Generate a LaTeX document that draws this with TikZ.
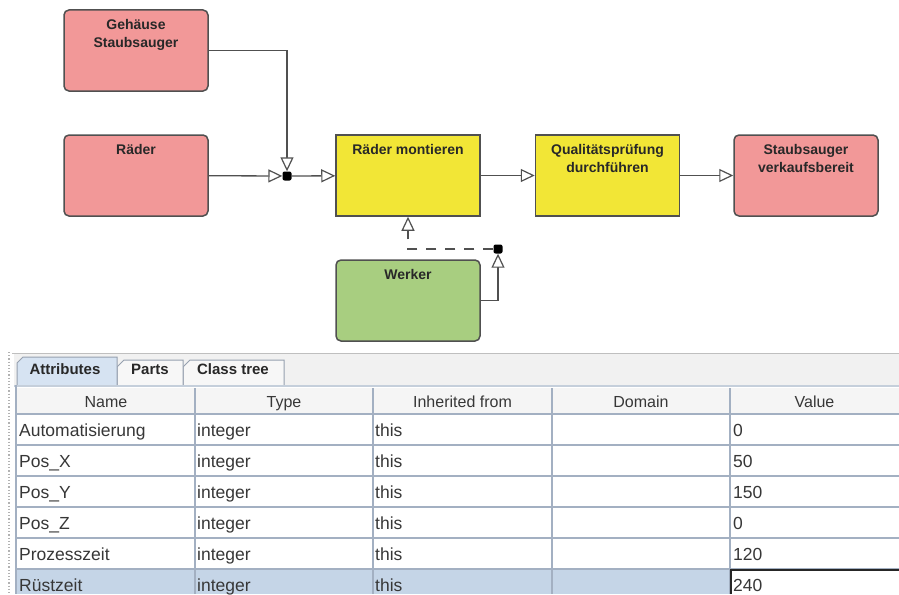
\documentclass[tikz,border=0pt]{standalone}
\usepackage{fontspec}
\setmainfont{Liberation Sans}
\usetikzlibrary{arrows.meta}
\definecolor{boxpink}{RGB}{242,152,152}
\definecolor{boxyellow}{RGB}{242,230,54}
\definecolor{boxgreen}{RGB}{168,206,128}
\definecolor{boxline}{RGB}{80,80,80}
\definecolor{boxtext}{RGB}{40,40,40}
\definecolor{gridline}{RGB}{163,176,194}
\definecolor{panelgray}{RGB}{241,241,241}
\definecolor{headgray}{RGB}{245,245,245}
\definecolor{selrow}{RGB}{197,213,231}
\definecolor{tabblue}{RGB}{214,227,242}
\definecolor{tabline}{RGB}{150,160,175}
\definecolor{celltext}{RGB}{55,55,55}
\newcommand\boxtitle[1]{\parbox[c][62pt][t]{140pt}{\centering #1}}

\begin{document}
\begin{tikzpicture}[x=1pt, y=-1pt,
    box/.style={draw=boxline, line width=1.5pt, minimum width=144pt, minimum height=81pt, inner sep=0pt, text=boxtext, font=\fontsize{14}{18}\selectfont\bfseries},
    part/.style={box, fill=boxpink, rounded corners=5pt},
    task/.style={box, fill=boxyellow},
    worker/.style={box, fill=boxgreen, rounded corners=5pt},
    dot/.style={fill=black, rounded corners=2pt, minimum size=9pt, inner sep=0pt},
    flow/.style={draw=boxline, line width=1.3pt, -{Triangle[fill=white, length=14pt, width=13pt, line width=1.2pt]}},
    cell/.style={anchor=base west, inner sep=0pt, text=celltext, font=\fontsize{17.5}{20}\selectfont},
    head/.style={anchor=base, inner sep=0pt, text=celltext, font=\fontsize{16}{19}\selectfont},
    tab/.style={anchor=base, inner sep=0pt, text=boxtext, font=\fontsize{15}{18}\selectfont\bfseries}]
  \clip (0,0) rectangle (899,594);
  \fill[white] (0,0) rectangle (899,594);

  % process diagram
  \node[part] (geh) at (136,50.5) {\boxtitle{Gehäuse\\Staubsauger}};
  \node[part] (rad) at (136,175.5) {\boxtitle{Räder}};
  \node[task] (mont) at (408,175.5) {\boxtitle{Räder montieren}};
  \node[task] (qual) at (607.5,175.5) {\boxtitle{Qualitätsprüfung\\durchführen}};
  \node[part] (verk) at (806,175.5) {\boxtitle{Staubsauger\\verkaufsbereit}};
  \node[worker] (werk) at (408,300.5) {\boxtitle{Werker}};
  \node[dot] (jn) at (287,176) {};
  \node[dot] (jw) at (498,249) {};

  \draw[flow] (geh) -| (jn);
  \draw[flow] (rad) -- (jn);
  \draw[flow] (jn) -- (mont);
  \draw[flow] (mont) -- (qual);
  \draw[flow] (qual) -- (verk);
  \draw[flow] (werk) -| (jw);
  \draw[flow, dash pattern=on 10pt off 9pt] (jw) -| (mont);

  % attribute panel
  \draw[gray!60, dotted, line width=1.2pt] (9,352) -- (9,594);
  \fill[panelgray] (14,353) rectangle (899,385);
  \draw[gray!50, line width=1pt] (12,353) -- (899,353);
  \filldraw[fill=panelgray!60!white, draw=tabline, line width=1pt] (183,385) -- (183,367) -- (190,360) -- (284,360) -- (284,385);
  \filldraw[fill=panelgray!60!white, draw=tabline, line width=1pt] (117,385) -- (117,367) -- (124,360) -- (183,360) -- (183,385);
  \filldraw[fill=tabblue, draw=tabline, line width=1pt] (17,385) -- (17,363) -- (23,357) -- (117,357) -- (117,385);
  \node[tab] (tatt) at (65,374.5) {Attributes};
  \node[tab] (tpar) at (150,374.5) {Parts};
  \node[tab] (tcls) at (233,374.5) {Class tree};
  \draw[tabblue!80!gray, line width=2.5pt] (14,386) -- (899,386);

  \fill[headgray] (17,388) rectangle (899,413);
  \fill[white] (17,414) rectangle (899,594);
  \fill[selrow] (17,569) rectangle (730,594);
  \foreach \k in {0,...,5}
    \draw[gridline, line width=1.8pt] (17,414+31*\k) -- (899,414+31*\k);
  \foreach \cx in {195,373,552,730}
    \draw[gridline, line width=1.5pt] (\cx,388) -- (\cx,594);
  \draw[gridline, line width=2pt] (15.5,385) -- (15.5,594);
  \draw[black!85, line width=1.5pt] (731,594) -- (731,570) -- (900,570);

  \node[head] (hname) at (106,407) {Name};
  \node[head] (htype) at (284,407) {Type};
  \node[head] (hfrom) at (462.5,407) {Inherited from};
  \node[head] (hdom) at (641,407) {Domain};
  \node[head] (hval) at (814.5,407) {Value};

  \foreach \attr/\val [count=\r] in {Automatisierung/0, Pos\_X/50, Pos\_Y/150, Pos\_Z/0, Prozesszeit/120, Rüstzeit/240} {
    \node[cell] (attr\r) at (19,405+31*\r) {\attr};
    \node[cell] (type\r) at (197,405+31*\r) {integer};
    \node[cell] (from\r) at (375,405+31*\r) {this};
    \node[cell] (val\r) at (733,405+31*\r) {\val};
  }
\end{tikzpicture}
\end{document}
